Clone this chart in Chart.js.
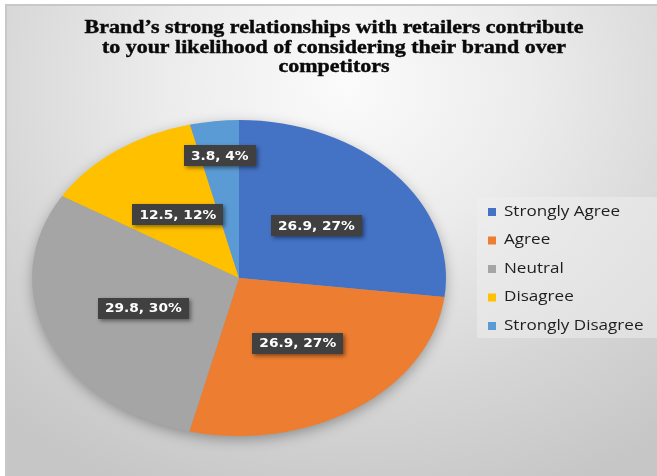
<!DOCTYPE html>
<html>
<head>
<meta charset="utf-8">
<script src="https://cdn.jsdelivr.net/npm/chart.js@4.4.0/dist/chart.umd.min.js"></script>
<style>
  html, body { margin: 0; padding: 0; background: #fff; }
  #wrap { position: relative; width: 657px; height: 476px; overflow: hidden; }
  #panel {
    position: absolute; left: 5px; top: 4px; width: 652px; height: 472px;
    border-left: 2px solid #c8c8c8; border-top: 2px solid #c8c8c8;
    background: radial-gradient(ellipse 520px 440px at 340px 80px, #fbfbfb 0%, #ececec 35%, #d6d6d6 70%, #c6c6c6 100%);
  }
  #myChart { position: absolute; left: 0; top: 0; }
</style>
</head>
<body>
<div id="wrap">
  <div id="panel"></div>
  <canvas id="myChart" width="657" height="476"></canvas>
</div>
<script>
'use strict';

var titleLines = [
  'Brand\u2019s strong relationships with retailers contribute',
  'to your likelihood of considering their brand over',
  'competitors'
];
var answers = ['Strongly Agree', 'Agree', 'Neutral', 'Disagree', 'Strongly Disagree'];
var shares = [26.9, 26.9, 29.8, 12.5, 3.8];
var percentText = ['27%', '27%', '30%', '12%', '4%'];
var sliceColors = ['#4472C4', '#ED7D31', '#A5A5A5', '#FFC000', '#5B9BD5'];

// the whole figure is stretched sideways: oval pie, wide letters
var stretchX = 1.31;

// text drawn wider than the font, anchored at x
function wideText(ctx, text, x, y, sx, stroke) {
  ctx.save();
  ctx.translate(x, y);
  ctx.scale(sx, 1);
  ctx.fillText(text, 0, 0);
  if (stroke) {
    ctx.lineWidth = stroke;
    ctx.strokeStyle = ctx.fillStyle;
    ctx.strokeText(text, 0, 0);
  }
  ctx.restore();
}

var ovalPie = {
  id: 'ovalPie',
  beforeDatasetsDraw: function (chart) {
    var ctx = chart.ctx;
    var arc = chart.getDatasetMeta(0).data[0];
    var cx = arc.x, cy = arc.y, r = arc.outerRadius;
    ctx.save();
    ctx.translate(cx, cy);
    ctx.scale(stretchX, 1);
    ctx.translate(-cx, -cy);
    // soft shadow under the pie
    ctx.save();
    ctx.shadowColor = 'rgba(0,0,0,0.35)';
    ctx.shadowBlur = 14;
    ctx.shadowOffsetY = 4;
    ctx.fillStyle = '#999';
    ctx.beginPath();
    ctx.arc(cx, cy, r - 1, 0, Math.PI * 2);
    ctx.fill();
    ctx.restore();
  },
  afterDatasetsDraw: function (chart) {
    chart.ctx.restore();
  }
};

var sliceLabels = {
  id: 'sliceLabels',
  afterDraw: function (chart) {
    var ctx = chart.ctx;
    var meta = chart.getDatasetMeta(0);
    var total = shares.reduce(function (a, b) { return a + b; }, 0);
    var sx = 1.1;
    ctx.save();
    ctx.font = 'bold 12.5px "DejaVu Sans", Verdana, sans-serif';
    ctx.textAlign = 'center';
    ctx.textBaseline = 'middle';
    for (var i = 0; i < meta.data.length; i++) {
      var a = meta.data[i];
      var mid = (a.startAngle + a.endAngle) / 2;
      var k = shares[i] / total < 0.06 ? 0.78 : 0.5;
      var x = a.x + Math.cos(mid) * a.outerRadius * k * stretchX;
      var y = a.y + Math.sin(mid) * a.outerRadius * k;
      var text = shares[i] + ', ' + percentText[i];
      var w = ctx.measureText(text).width * sx + 14;
      var h = 21;
      ctx.save();
      ctx.shadowColor = 'rgba(0,0,0,0.45)';
      ctx.shadowBlur = 4;
      ctx.shadowOffsetX = 2;
      ctx.shadowOffsetY = 2;
      ctx.fillStyle = '#404040';
      ctx.fillRect(Math.round(x - w / 2), Math.round(y - h / 2), Math.round(w), h);
      ctx.restore();
      ctx.fillStyle = '#ffffff';
      wideText(ctx, text, x, y + 1, sx);
    }
    ctx.restore();
  }
};

var titleAndLegend = {
  id: 'titleAndLegend',
  afterDraw: function (chart) {
    var ctx = chart.ctx;
    ctx.save();
    // title
    ctx.fillStyle = '#0a0a0a';
    ctx.font = 'bold 18px "Liberation Serif", "Times New Roman", serif';
    ctx.textAlign = 'center';
    ctx.textBaseline = 'alphabetic';
    for (var i = 0; i < titleLines.length; i++) {
      wideText(ctx, titleLines[i], 334, 33 + i * 19.6, 1.22, 0.4);
    }
    // legend box
    ctx.fillStyle = 'rgba(240,240,240,0.5)';
    ctx.fillRect(477, 197, 180, 141);
    ctx.font = '14px "Open Sans", sans-serif';
    ctx.textAlign = 'left';
    ctx.textBaseline = 'middle';
    for (var j = 0; j < answers.length; j++) {
      var y = 212 + j * 28.5;
      ctx.fillStyle = sliceColors[j];
      ctx.fillRect(488, y - 4, 8, 8);
      ctx.fillStyle = '#1e1e1e';
      wideText(ctx, answers[j], 504, y, 1.22);
    }
    ctx.restore();
  }
};

var ctx = document.getElementById('myChart').getContext('2d');
var chart = new Chart(ctx, {
  type: 'pie',
  data: {
    labels: answers,
    datasets: [{
      data: shares,
      backgroundColor: sliceColors,
      borderWidth: 0
    }]
  },
  options: {
    responsive: false,
    animation: false,
    devicePixelRatio: 1,
    layout: { padding: { left: 81, right: 260, top: 120, bottom: 40 } },
    plugins: {
      legend: { display: false },
      title: { display: false },
      tooltip: { enabled: false }
    }
  },
  plugins: [ovalPie, sliceLabels, titleAndLegend]
});
</script>
</body>
</html>
